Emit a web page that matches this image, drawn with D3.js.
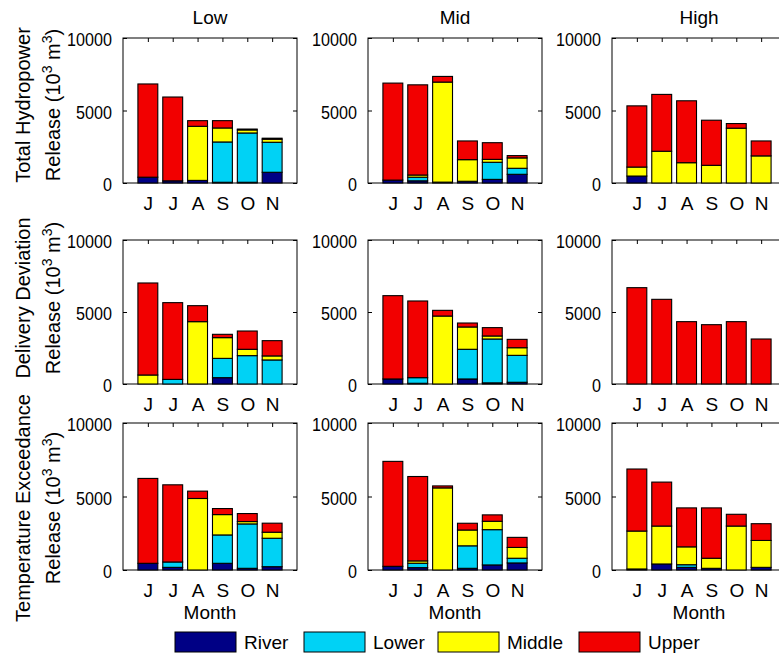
<!DOCTYPE html>
<html>
<head>
<meta charset="utf-8">
<script src="https://cdn.jsdelivr.net/npm/d3@7"></script>
<style>
  html, body { margin: 0; padding: 0; background: #fff; }
  svg { display: block; }
  text { font-family: "Liberation Sans", Arial, sans-serif; fill: #000; }
</style>
</head>
<body>
<div id="chart"></div>
<script>
// Months of the release season (June - November)
const months = ["J", "J", "A", "S", "O", "N"];
const regimes = ["Low", "Mid", "High"];
const objectives = ["Total Hydropower", "Delivery Deviation", "Temperature Exceedance"];
const zones = ["River", "Lower", "Middle", "Upper"];
const zoneColors = ["#000085", "#00d2f5", "#ffff00", "#f20000"];
const yTicks = [0, 5000, 10000];

// Release per outlet zone (10^3 m^3); rows: River, Lower, Middle, Upper
const hydroLow = [
  [400, 150, 180, 50, 50, 740],
  [0, 0, 0, 2780, 3400, 2070],
  [0, 0, 3730, 965, 210, 210],
  [6430, 5780, 390, 505, 60, 70]
];
const hydroMid = [
  [200, 150, 60, 120, 250, 600],
  [0, 250, 0, 0, 1180, 415],
  [0, 150, 6900, 1490, 200, 715],
  [6690, 6220, 390, 1290, 1150, 160]
];
const hydroHigh = [
  [480, 0, 0, 0, 0, 0],
  [0, 0, 0, 0, 0, 0],
  [620, 2190, 1400, 1220, 3780, 1870],
  [4220, 3920, 4270, 3110, 320, 1030]
];
const deliveryLow = [
  [0, 0, 0, 440, 0, 0],
  [0, 320, 0, 1340, 1970, 1670],
  [625, 0, 4330, 1440, 440, 280],
  [6390, 5330, 1110, 230, 1270, 1060]
];
const deliveryMid = [
  [350, 50, 0, 350, 80, 120],
  [0, 390, 0, 2060, 3045, 1870],
  [0, 0, 4720, 1550, 210, 530],
  [5785, 5325, 395, 275, 580, 580]
];
const deliveryHigh = [
  [0, 0, 0, 0, 0, 0],
  [0, 0, 0, 0, 0, 0],
  [0, 0, 0, 0, 0, 0],
  [6690, 5880, 4330, 4120, 4330, 3125]
];
const tempLow = [
  [455, 180, 0, 455, 115, 225],
  [0, 365, 0, 1930, 3020, 1935],
  [0, 0, 4865, 1385, 160, 410],
  [5775, 5250, 500, 410, 545, 615]
];
const tempMid = [
  [250, 160, 0, 115, 345, 480],
  [0, 300, 0, 1530, 2400, 320],
  [0, 160, 5585, 1075, 570, 735],
  [7140, 5740, 135, 460, 435, 685]
];
const tempHigh = [
  [70, 410, 180, 115, 0, 180],
  [0, 0, 180, 0, 0, 0],
  [2580, 2580, 1215, 685, 2990, 1830],
  [4220, 2990, 2650, 3425, 800, 1140]
];

const panels = [
  [hydroLow, hydroMid, hydroHigh],
  [deliveryLow, deliveryMid, deliveryHigh],
  [tempLow, tempMid, tempHigh]
];

const W = 779, H = 657;
const colLeft = [123, 368, 612];
const panelW = 174;
const rowTop = [38, 240, 423];
const rowBottom = [183, 384, 570];
const labelCenter = [105, 298, 508];
const FS = 19;
const LFS = 20;
const FONT = '"Liberation Sans", Arial, sans-serif';

const svg = d3.select("#chart").append("svg")
  .attr("width", W).attr("height", H)
  .attr("viewBox", `0 0 ${W} ${H}`);

svg.append("rect").attr("width", W).attr("height", H).attr("fill", "#fff");

const stack = d3.stack().keys(d3.range(zones.length));

panels.forEach((row, r) => {
  row.forEach((mat, c) => {
    const x = d3.scaleLinear().domain([0, 7]).range([colLeft[c], colLeft[c] + panelW]);
    const y = d3.scaleLinear().domain([0, 10000]).range([rowBottom[r], rowTop[r]]);
    const g = svg.append("g");

    // Axes (ticks point inward, drawn beneath the bars)
    const xIdx = d3.range(1, months.length + 1);
    const left = g.append("g").attr("transform", `translate(${x(0)},0)`)
      .call(d3.axisLeft(y).tickValues(yTicks).tickFormat(d3.format("d"))
        .tickSizeInner(-4).tickSizeOuter(0).tickPadding(10));
    const right = g.append("g").attr("transform", `translate(${x(7)},0)`)
      .call(d3.axisRight(y).tickValues(yTicks).tickFormat("")
        .tickSizeInner(-4).tickSizeOuter(0));
    const bottom = g.append("g").attr("transform", `translate(0,${y(0)})`)
      .call(d3.axisBottom(x).tickValues(xIdx).tickFormat(i => months[i - 1])
        .tickSizeInner(-4).tickSizeOuter(0).tickPadding(14));
    const top = g.append("g").attr("transform", `translate(0,${y(10000)})`)
      .call(d3.axisTop(x).tickValues(xIdx).tickFormat("")
        .tickSizeInner(-4).tickSizeOuter(0));
    [left, right, bottom, top].forEach(a => {
      a.select(".domain").remove();
      a.selectAll("line").attr("stroke", "#000");
      a.selectAll("text").attr("font-size", FS)
        .attr("font-family", FONT).attr("fill", "#000");
    });
    // narrow digits for the value ticks
    left.selectAll("text")
      .attr("x", 0).attr("dy", "0.4em")
      .attr("transform", "translate(-11,0) scale(0.85,1)");

    // Frame
    g.append("rect")
      .attr("x", x(0)).attr("y", y(10000))
      .attr("width", x(7) - x(0)).attr("height", y(0) - y(10000))
      .attr("fill", "none").attr("stroke", "#000").attr("stroke-width", 1);

    // Stacked bars
    const rows = months.map((m, i) => zones.map((z, k) => mat[k][i]));
    const series = stack(rows);
    series.forEach((s, k) => {
      g.append("g").selectAll("rect").data(s).join("rect")
        .attr("x", (d, i) => x(i + 1 - 0.4))
        .attr("width", x(0.8) - x(0))
        .attr("y", d => y(d[1]))
        .attr("height", d => y(d[0]) - y(d[1]))
        .attr("fill", zoneColors[k])
        .attr("stroke", "#000").attr("stroke-width", 1.1);
    });

    if (r === 0) {
      svg.append("text").attr("x", x(3.5)).attr("y", 24)
        .attr("text-anchor", "middle").attr("font-size", FS).text(regimes[c]);
    }
    if (r === 2) {
      svg.append("text").attr("x", x(3.5)).attr("y", y(0) + 49)
        .attr("text-anchor", "middle").attr("font-size", FS).text("Month");
    }
    if (c === 0) {
      const cy = labelCenter[r];
      svg.append("text")
        .attr("transform", `translate(30,${cy}) rotate(-90)`)
        .attr("text-anchor", "middle").attr("font-size", LFS)
        .text(objectives[r]);
      const lab2 = svg.append("text")
        .attr("transform", `translate(60,${cy}) rotate(-90)`)
        .attr("text-anchor", "middle").attr("font-size", LFS);
      lab2.append("tspan").text("Release (10");
      lab2.append("tspan").attr("dy", -8).attr("font-size", 14).text("3");
      lab2.append("tspan").attr("dy", 8).text(" m");
      lab2.append("tspan").attr("dy", -8).attr("font-size", 14).text("3");
      lab2.append("tspan").attr("dy", 8).text(")");
    }
  });
});

// Legend
const legend = svg.append("g");
const legX = [175, 304, 438, 579];
zones.forEach((z, k) => {
  legend.append("rect").attr("x", legX[k]).attr("y", 632)
    .attr("width", 61).attr("height", 20)
    .attr("fill", zoneColors[k]).attr("stroke", "#000").attr("stroke-width", 1);
  legend.append("text").attr("x", legX[k] + 69).attr("y", 649)
    .attr("font-size", FS).text(z);
});
</script>
</body>
</html>
